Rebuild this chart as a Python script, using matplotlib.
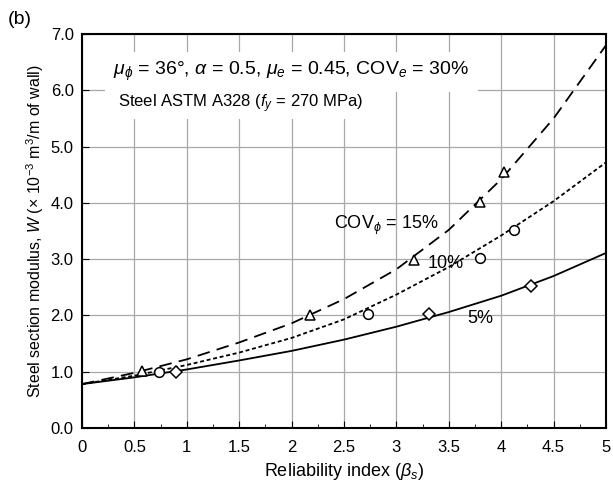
import matplotlib
matplotlib.use("Agg")
import matplotlib.pyplot as plt
from matplotlib.ticker import MultipleLocator

plt.rcParams['font.family'] = ['Liberation Sans', 'DejaVu Sans']
plt.rcParams['mathtext.fontset'] = 'custom'
plt.rcParams['mathtext.rm'] = 'Liberation Sans'
plt.rcParams['mathtext.it'] = 'Liberation Sans:italic'

# curve readings
beta = [0, 0.5, 1, 1.5, 2, 2.5, 3, 3.5, 4, 4.5, 5]
w_15 = [0.78, 0.98, 1.22, 1.52, 1.86, 2.29, 2.82, 3.52, 4.42, 5.50, 6.80]
w_10 = [0.78, 0.93, 1.12, 1.34, 1.60, 1.93, 2.37, 2.86, 3.42, 4.03, 4.72]
w_05 = [0.78, 0.90, 1.04, 1.20, 1.37, 1.57, 1.80, 2.06, 2.35, 2.70, 3.11]

# marker readings
tri_x = [0.57, 2.18, 3.17, 3.80, 4.03]
tri_y = [1.02, 2.01, 2.99, 4.02, 4.54]
cir_x = [0.73, 2.73, 3.80, 4.12]
cir_y = [1.00, 2.02, 3.02, 3.52]
dia_x = [0.90, 3.31, 4.28]
dia_y = [1.00, 2.02, 2.52]

xticks = [0, 0.5, 1, 1.5, 2, 2.5, 3, 3.5, 4, 4.5, 5]
xticklabels = ['0', '0.5', '1', '1.5', '2', '2.5', '3', '3.5', '4', '4.5', '5']
yticks = [0, 1, 2, 3, 4, 5, 6, 7]
yticklabels = ['0.0', '1.0', '2.0', '3.0', '4.0', '5.0', '6.0', '7.0']

fig = plt.figure(figsize=(6.13, 4.93), dpi=100)
ax = fig.add_axes([82/613, 1-428/493, (606-82)/613, (428-34)/493])

ax.set_xlim(0, 5)
ax.set_ylim(0, 7)
ax.grid(True, color='#a8a8a8', linewidth=0.9, zorder=0)
ax.set_axisbelow(True)

ax.plot(beta, w_15, color='black', lw=1.3, dashes=(7, 4), zorder=3)
ax.plot(beta, w_10, color='black', lw=1.3, dashes=(2.2, 1.5), zorder=3)
ax.plot(beta, w_05, color='black', lw=1.3, zorder=3)

mk = dict(linestyle='none', markerfacecolor='white', markeredgecolor='black',
          markeredgewidth=1.1, zorder=4)
ax.plot(tri_x, tri_y, marker='^', markersize=7, **mk)
ax.plot(cir_x, cir_y, marker='o', markersize=7, **mk)
ax.plot(dia_x, dia_y, marker='D', markersize=6, **mk)

ax.set_xticks(xticks)
ax.set_xticklabels(xticklabels)
ax.set_yticks(yticks)
ax.set_yticklabels(yticklabels)
ax.xaxis.set_minor_locator(MultipleLocator(0.25))
ax.tick_params(axis='both', which='both', direction='in', labelsize=12)
ax.tick_params(axis='x', which='major', length=5, pad=9)
ax.tick_params(axis='x', which='minor', length=3)
ax.tick_params(axis='y', which='major', length=5, pad=6)
for s in ax.spines.values():
    s.set_linewidth(1.5)

ax.set_xlabel(r'Reliability index ($\beta_s$)', fontsize=13, labelpad=4)
ax.set_ylabel(r'Steel section modulus, $W$ (× 10$^{-3}$ m$^3$/m of wall)',
              fontsize=11.5, labelpad=3)

ax.text(0.30, 6.33, r'$\mu_\phi$ = 36°, $\alpha$ = 0.5, $\mu_e$ = 0.45, COV$_e$ = 30%',
        fontsize=14, va='center', ha='left', zorder=5,
        bbox=dict(facecolor='white', edgecolor='none', pad=6))
ax.text(0.34, 5.77, r'Steel ASTM A328 ($f_y$ = 270 MPa)',
        fontsize=12, va='center', ha='left', zorder=5,
        bbox=dict(facecolor='white', edgecolor='none', pad=3))
ax.text(2.40, 3.60, r'COV$_\phi$ = 15%', fontsize=13, va='center', ha='left', zorder=5)
ax.text(3.30, 2.93, '10%', fontsize=13, va='center', ha='left', zorder=5)
ax.text(3.68, 1.95, '5%', fontsize=13, va='center', ha='left', zorder=5)

fig.text(8/613, 1-20/493, '(b)', fontsize=14, va='center', ha='left')

fig.savefig('out.png', dpi=100)
